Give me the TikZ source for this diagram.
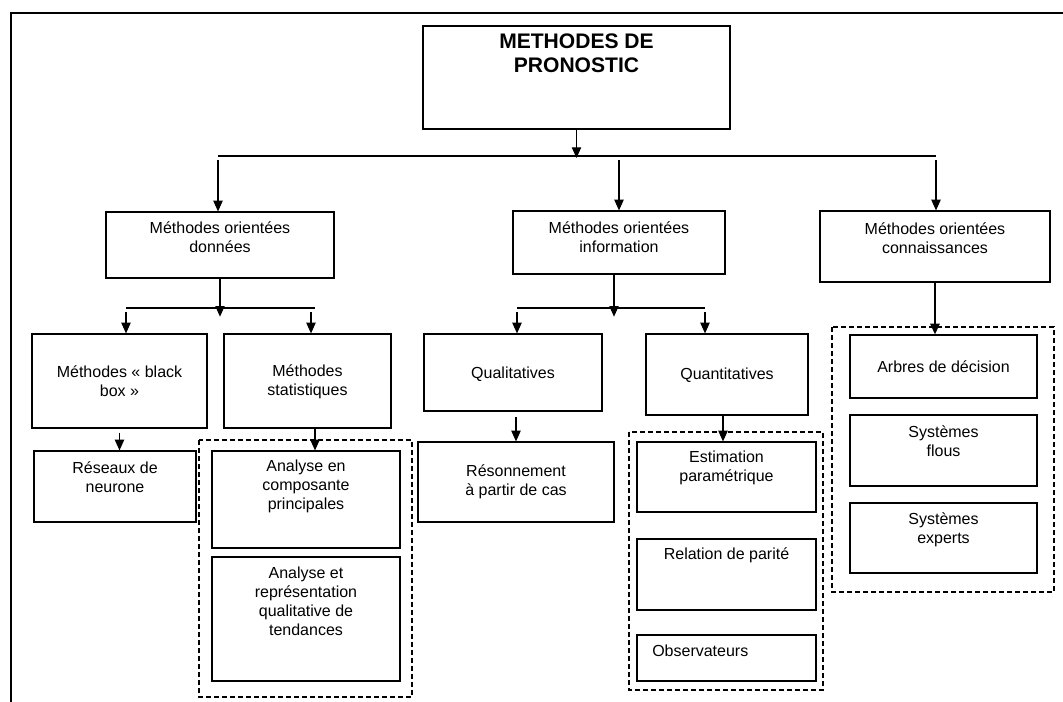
\documentclass[tikz,border=0pt]{standalone}
\usepackage{fontspec}
\setmainfont{Liberation Sans}
\usetikzlibrary{arrows.meta}

\begin{document}
\begin{tikzpicture}[x=0.75pt,y=-0.75pt,
  boite/.style={draw,line width=0.9pt,rectangle,inner sep=0pt},
  texte/.style={align=center,inner sep=0pt,font=\fontsize{12}{14.25}\selectfont},
  titre/.style={align=center,inner sep=0pt,font=\fontsize{15.8}{18}\selectfont\bfseries},
  fleche/.style={-{Triangle[length=8pt,width=7pt]},line width=0.8pt},
  groupe/.style={draw,dash pattern=on 4pt off 2pt,line width=0.8pt}]
\useasboundingbox (0,0) rectangle (1063,702);
\draw[line width=1.7pt] (1063,13)--(11,13)--(11,702);

\node[boite,minimum width=230.25pt,minimum height=77.25pt] (princ) at (576.5,77.5) {};
\node[titre] (princ-t) at (576.5,53) {METHODES DE\\PRONOSTIC};

\node[boite,minimum width=171pt,minimum height=49.5pt] (don) at (220,245) {};
\node[texte] (don-t) at (220,237.5) {Méthodes orientées\\données};
\node[boite,minimum width=159pt,minimum height=47.25pt] (inf) at (619,242.5) {};
\node[texte] (inf-t) at (619,237.5) {Méthodes orientées\\information};
\node[boite,minimum width=172.5pt,minimum height=53.25pt] (con) at (935,246.5) {};
\node[texte] (con-t) at (935,238.5) {Méthodes orientées\\connaissances};

\node[boite,minimum width=131.25pt,minimum height=70.5pt] (bb) at (119.5,381) {};
\node[texte] (bb-t) at (119.5,381.5) {Méthodes «~black\\box~»};
\node[boite,minimum width=125.25pt,minimum height=70.5pt] (stat) at (307.5,381) {};
\node[texte] (stat-t) at (307.5,381.5) {Méthodes\\statistiques};
\node[boite,minimum width=121.5pt,minimum height=53.25pt] (res) at (115,486.5) {};
\node[texte] (res-t) at (115,477) {Réseaux de\\neurone};
\node[boite,minimum width=141pt,minimum height=72.75pt] (acp) at (306,499.5) {};
\node[texte] (acp-t) at (306,486) {Analyse en\\composante\\principales};
\node[boite,minimum width=141pt,minimum height=93pt] (arq) at (306,619) {};
\node[texte] (arq-t) at (306,601.5) {Analyse et\\représentation\\qualitative de\\tendances};

\node[boite,minimum width=133.5pt,minimum height=57.75pt] (qual) at (513,372.5) {};
\node[texte] (qual-t) at (513,374) {Qualitatives};
\node[boite,minimum width=121.5pt,minimum height=60.75pt] (quant) at (727,374.5) {};
\node[texte] (quant-t) at (727,375) {Quantitatives};
\node[boite,minimum width=147pt,minimum height=60pt] (rapc) at (516,482) {};
\node[texte] (rapc-t) at (516,482) {Résonnement\\à partir de cas};
\node[boite,minimum width=134.25pt,minimum height=52.5pt] (est) at (726.5,477) {};
\node[texte] (est-t) at (726.5,467.5) {Estimation\\paramétrique};
\node[boite,minimum width=134.25pt,minimum height=53.25pt] (par) at (726.5,574.5) {};
\node[texte] (par-t) at (726.5,555) {Relation de parité};
\node[boite,minimum width=134.25pt,minimum height=34.5pt] (obs) at (726.5,658) {};
\node[texte,anchor=west] (obs-t) at (652,651) {Observateurs};

\node[boite,minimum width=140.25pt,minimum height=47.25pt] (arb) at (943.5,366.5) {};
\node[texte] (arb-t) at (943.5,367) {Arbres de décision};
\node[boite,minimum width=140.25pt,minimum height=53.25pt] (flou) at (943.5,450.5) {};
\node[texte] (flou-t) at (943.5,441.5) {Systèmes\\flous};
\node[boite,minimum width=140.25pt,minimum height=52.5pt] (exp) at (943.5,538) {};
\node[texte] (exp-t) at (943.5,529.5) {Systèmes\\experts};

\draw[groupe] (199,440) rectangle (412,697);
\draw[groupe] (629,432) rectangle (823,690);
\draw[groupe] (832,327) rectangle (1054,592);

\coordinate (h1g) at (218,156);
\coordinate (h1d) at (936,156);
\coordinate (h2g) at (126,308);
\coordinate (h2d) at (315,308);
\coordinate (h2s) at (311,308);
\coordinate (h3g) at (517,308);
\coordinate (h3d) at (705,308);
\coordinate (s1) at (315,428);

\draw[line width=0.8pt] (h1g)--(h1d);
\draw[fleche,shorten >=-1.5pt] (princ.south)--(princ.south |- h1g);
\draw[fleche,shorten <=3pt] (h1g)--(h1g |- don.north);
\draw[fleche,shorten <=3pt] (inf.north |- h1g)--(inf.north);
\draw[fleche,shorten <=3pt] (h1d)--(h1d |- con.north);

\draw[line width=0.8pt] (h2g)--(h2d);
\draw[fleche,shorten >=-6.5pt] (don.south)--(don.south |- h2g);
\draw[fleche,shorten <=3pt] (h2g)--(h2g |- bb.north);
\draw[fleche,shorten <=3pt] (h2s)--(h2s |- stat.north);

\draw[line width=0.8pt] (h3g)--(h3d);
\draw[fleche,shorten >=-6.5pt] ([xshift=-3.75pt]inf.south)--([xshift=-3.75pt]inf.south |- h3g);
\draw[fleche,shorten <=3pt] (h3g)--(h3g |- qual.north);
\draw[fleche,shorten <=3pt] (h3d)--(h3d |- quant.north);

\draw[fleche,shorten <=3pt] (bb.south)--(bb.south |- res.north);
\draw[fleche] (s1)--(s1 |- acp.north);
\draw[fleche,shorten <=4pt] (qual.south -| rapc.north)--(rapc.north);
\draw[fleche] ([xshift=-3pt]quant.south)--([xshift=-3pt]quant.south |- est.north);
\draw[fleche,line width=1.3pt] (con.south)--(con.south |- arb.north);
\end{tikzpicture}
\end{document}
